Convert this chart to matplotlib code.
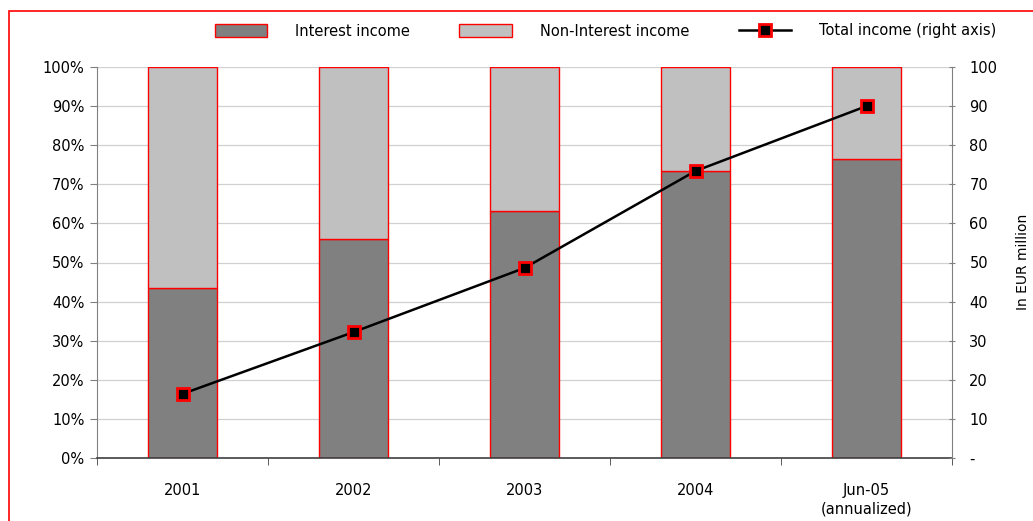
import matplotlib
matplotlib.use("Agg")
import matplotlib.pyplot as plt
from matplotlib.patches import Rectangle
from matplotlib.lines import Line2D
import numpy as np

plt.rcParams.update({
    "font.family": "DejaVu Sans",
    "font.size": 10.5,
})

# data
categories = ["2001", "2002", "2003", "2004", "Jun-05\n(annualized)"]
interest_share = [43.5, 56.0, 63.2, 73.4, 76.5]   # % of total income
total_income = [16.4, 32.2, 48.6, 73.4, 90.0]     # EUR million
non_interest_share = [100 - v for v in interest_share]

DARK = "#808080"
LIGHT = "#C0C0C0"
EDGE = "#FF0000"

fig = plt.figure(figsize=(10.33, 5.21), dpi=100)
ax = fig.add_axes([97 / 1033, 63 / 521, 855 / 1033, 391 / 521])

x = np.arange(len(categories))
w = 0.40
ax.bar(x, interest_share, w, color=DARK, edgecolor=EDGE, linewidth=1.0,
       label="Interest income", zorder=2)
ax.bar(x, non_interest_share, w, bottom=interest_share, color=LIGHT,
       edgecolor=EDGE, linewidth=1.0, label="Non-Interest income", zorder=2)

ax.set_xlim(-0.5, len(categories) - 0.5)
ax.set_ylim(0, 100)
ax.set_yticks(range(0, 101, 10))
ax.set_yticklabels([f"{v}%" for v in range(0, 101, 10)])
ax.yaxis.grid(True, color="#D0D0D0", linewidth=0.9, zorder=0)
ax.set_axisbelow(True)

# category labels centred, ticks on the slot boundaries
ax.set_xticks(x)
ax.set_xticklabels(categories, linespacing=1.3)
ax.set_xticks(np.arange(-0.5, len(categories)), minor=True)
ax.tick_params(axis="x", which="major", length=0, pad=18)
ax.tick_params(axis="x", which="minor", length=5, color="#404040", direction="out")
ax.tick_params(axis="y", length=5, color="#808080", direction="out", pad=4)

for s in ["top", "right"]:
    ax.spines[s].set_visible(False)
ax.spines["left"].set_color("#808080")
ax.spines["bottom"].set_color("#404040")
ax.spines["bottom"].set_linewidth(1.2)

ax2 = ax.twinx()
ax2.plot(x, total_income, color="black", lw=1.8, marker="s", ms=8,
         mfc="black", mec=EDGE, mew=2, zorder=5)
ax2.set_ylim(0, 100)
ax2.set_yticks(range(0, 101, 10))
ax2.set_yticklabels(["-"] + [str(v) for v in range(10, 101, 10)])
ax2.tick_params(axis="y", length=5, color="#808080", direction="inout", pad=10)
for s in ["top", "left", "bottom"]:
    ax2.spines[s].set_visible(False)
ax2.spines["right"].set_color("#808080")

# right-axis title, placed by hand so it stays inside the frame
fig.text(1023 / 1033, 1 - 262 / 521, "In EUR million", rotation=90,
         ha="center", va="center", fontsize=10)

handles = [
    Rectangle((0, 0), 1, 1, fc=DARK, ec=EDGE, lw=1.0),
    Rectangle((0, 0), 1, 1, fc=LIGHT, ec=EDGE, lw=1.0),
    Line2D([], [], color="black", lw=1.8, marker="s", ms=8, mfc="black",
           mec=EDGE, mew=2),
]
labels = ["Interest income", "Non-Interest income", "Total income (right axis)"]
fig.legend(handles, labels, loc="center", bbox_to_anchor=(0.586, 1 - 31 / 521),
           ncol=3, frameon=False, handlelength=3.6, handleheight=0.9,
           columnspacing=3.4, handletextpad=1.9, fontsize=10.5)

# red frame around the chart (only top and left visible in the reference)
fig.patches.append(Rectangle((9 / 1033, -0.05), 1.1, 1 - 11 / 521 + 0.05,
                             transform=fig.transFigure, fill=False,
                             ec=EDGE, lw=1.2))

fig.savefig("out.png", dpi=100)
